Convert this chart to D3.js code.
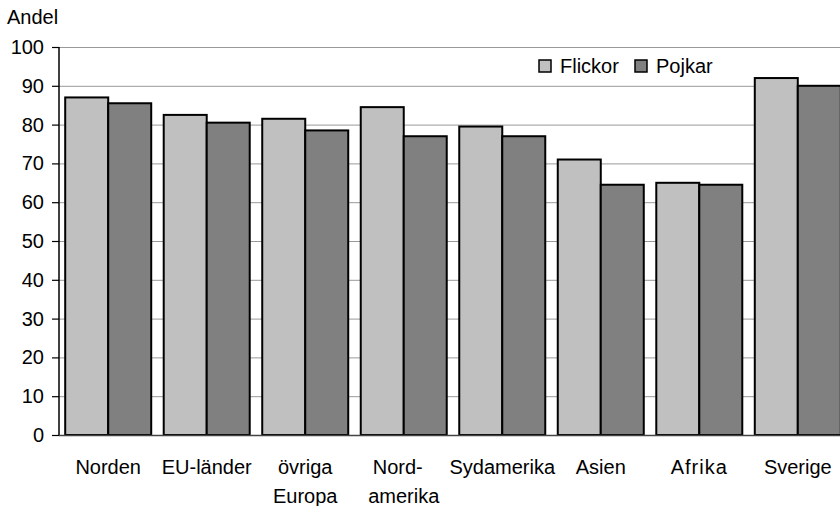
<!DOCTYPE html>
<html><head><meta charset="utf-8">
<script src="https://cdn.jsdelivr.net/npm/d3@7"></script>
<style>body{margin:0;background:#fff}svg{display:block}text{font-family:"Liberation Sans",Arial,sans-serif;fill:#000}</style>
</head><body><svg id="c" width="840" height="506"></svg>
<script>
const categories = [["Norden"],["EU-länder"],["övriga","Europa"],["Nord-","amerika"],["Sydamerika"],["Asien"],["Afrika"],["Sverige"]];
const flickor = [87, 82.5, 81.5, 84.5, 79.5, 71, 65, 92];
const pojkar  = [85.5, 80.5, 78.5, 77, 77, 64.5, 64.5, 90];
const seriesNames = ["Flickor","Pojkar"];
const yTicks = [0,10,20,30,40,50,60,70,80,90,100];
const colors = ["#c0c0c0","#808080"];

(function(){
const svg = d3.select("#c");
const mL = 59, mR = 847, mT = 47, mB = 435;
const x = d3.scaleBand().domain(d3.range(categories.length)).range([mL, mR]).paddingInner(0.127).paddingOuter(0.063);
const xs = d3.scaleBand().domain([0,1]).range([0, x.bandwidth()]);
const y = d3.scaleLinear().domain([0,100]).range([mB, mT]);

// gridlines
svg.append("g").selectAll("line").data(yTicks.filter(d=>d>0)).join("line")
  .attr("x1", mL).attr("x2", 840).attr("y1", d=>y(d)+0.5).attr("y2", d=>y(d)+0.5)
  .attr("stroke", "#999").attr("stroke-width", 1);

// bars
const data = [flickor, pojkar];
const g = svg.append("g");
categories.forEach((c,i)=>{
  data.forEach((s,j)=>{
    g.append("rect")
      .attr("x", x(i)+xs(j)).attr("y", y(s[i]))
      .attr("width", xs.bandwidth()).attr("height", y(0)-y(s[i]))
      .attr("fill", colors[j]).attr("stroke", "#000").attr("stroke-width", 2);
  });
});

// x axis line
svg.append("line").attr("x1", mL).attr("x2", 840).attr("y1", mB+0.5).attr("y2", mB+0.5).attr("stroke","#444").attr("stroke-width",1.5);

// y axis
const ya = svg.append("g").attr("transform", `translate(${mL},0)`)
  .call(d3.axisLeft(y).tickValues(yTicks).tickSize(7).tickPadding(8));
ya.select(".domain").attr("stroke","#000").attr("stroke-width",1.5).attr("d", `M0,${mT}V${mB}`);
ya.selectAll(".tick line").attr("stroke","#000").attr("stroke-width",1.2);
ya.selectAll(".tick text").attr("font-size", 20).attr("font-family",'"Liberation Sans",Arial,sans-serif').attr("fill","#000");

// y title
svg.append("text").attr("x", 7).attr("y", 24).attr("font-size", 20).text("Andel");

// category labels
categories.forEach((c,i)=>{
  const t = svg.append("text").attr("text-anchor","middle").attr("font-size", 20)
    .attr("x", x(i)+x.bandwidth()/2).attr("y", 474);
  if (c[0]==="Afrika") t.attr("letter-spacing", 1);
  c.forEach((line,k)=>{
    t.append("tspan").attr("x", x(i)+x.bandwidth()/2 + (line==="Nord-"? -6:0)).attr("dy", k===0?0:29).text(line);
  });
});

// legend
const lg = svg.append("g").attr("transform","translate(539,60)");
seriesNames.forEach((n,j)=>{
  const gx = j===0 ? 0 : 96;
  lg.append("rect").attr("x", gx).attr("y", 0).attr("width", 12).attr("height", 12)
    .attr("fill", colors[j]).attr("stroke","#000").attr("stroke-width",1.5);
  lg.append("text").attr("x", gx+21).attr("y", 13).attr("font-size", 20).text(n);
});
})();
</script></body></html>
